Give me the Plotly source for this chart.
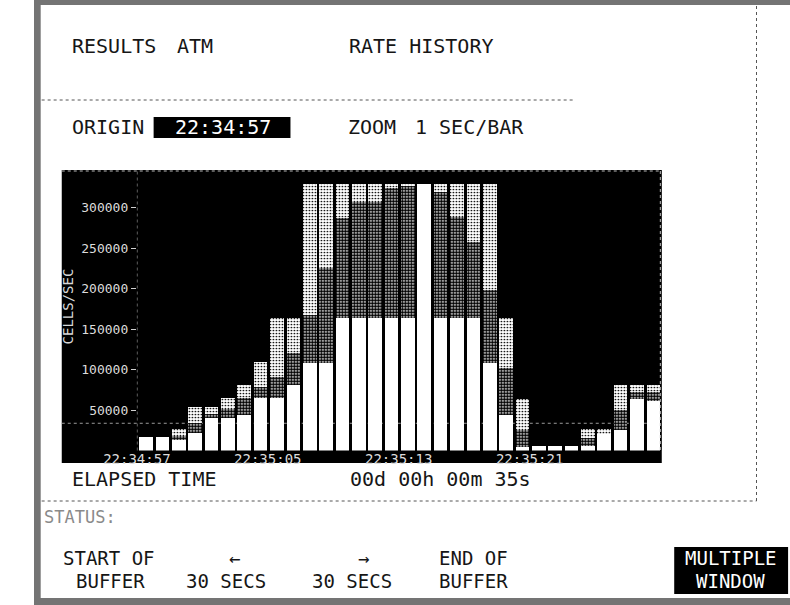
import plotly.graph_objects as go

# ---------------- data ----------------
seconds = list(range(32))  # one bar per second from origin 22:34:57
tick_seconds = [0, 8, 16, 24]
tick_labels = ["22:34:57", "22:35:05", "22:35:13", "22:35:21"]
y_ticks = [50000, 100000, 150000, 200000, 250000, 300000]

# segment heights (cells/sec) read from the display
white_seg = [16300, 16300, 13000, 22000, 40000, 39700, 43800, 64400, 64400, 80900,
             108400, 108400, 164000, 164000, 164000, 164000, 164000, 329000, 164000, 164000,
             164000, 108400, 43800, 4500, 5600, 5600, 5600, 5600, 20400, 25300,
             63200, 61500]
dark_seg = [0, 0, 5000, 11600, 5000, 11100, 20600, 14400, 26700, 39100,
            58900, 116600, 122700, 143200, 142400, 159700, 162000, 0, 155500, 124600,
            93800, 89800, 57700, 20800, 0, 0, 0, 9400, 0, 24700,
            9400, 11100]
light_seg = [0, 0, 8900, 20500, 9100, 13600, 16500, 30800, 72500, 43600,
             161700, 104000, 42300, 21800, 22600, 5300, 3000, 0, 9500, 40400,
             71200, 130800, 62100, 37900, 0, 0, 0, 11200, 5800, 30900,
             8300, 8300]
threshold = 33600

W, H = 790, 605
MONO = "DejaVu Sans Mono"


def px(x):
    return x / W


def py(y):
    return (H - y) / H


# plot-area geometry in pixels
X0_PX, X1_PX = 107.5, 655.5
Y0_PX, Y1_PX = 450.5, 170
UNIT = 17.1
YMAX = (Y0_PX - Y1_PX) * 1234.6

fig = go.Figure()

seg_styles = [
    ("white", white_seg, dict(color="#ffffff")),
    ("dark", dark_seg, dict(color="#ffffff",
                            pattern=dict(shape=".", fgcolor="#000000", bgcolor="#ffffff",
                                         size=3, solidity=0.7, fillmode="replace"))),
    ("light", light_seg, dict(color="#ffffff",
                              pattern=dict(shape=".", fgcolor="#000000", bgcolor="#ffffff",
                                           size=3, solidity=0.25, fillmode="replace"))),
]
for name, vals, mk in seg_styles:
    fig.add_trace(go.Bar(
        x=seconds, y=vals, name=name, offset=0.14, width=0.83,
        marker=dict(line=dict(width=0), **mk), showlegend=False, hoverinfo="skip"))

shapes = []
# outer dithered frame
for x0, y0, x1, y1 in [(0, 0, 7, H), (0, 0, W, 5), (0, 598, W, H)]:
    shapes.append(dict(type="rect", xref="paper", yref="paper", x0=px(x0), x1=px(x1),
                       y0=py(y1), y1=py(y0), fillcolor="#747474", line=dict(width=0), layer="below"))
# dashed panel lines
shapes += [
    dict(type="line", xref="paper", yref="paper", x0=px(8), x1=px(564), y0=py(100), y1=py(100),
         line=dict(color="#555", width=1, dash="dot")),
    dict(type="line", xref="paper", yref="paper", x0=px(8), x1=px(755), y0=py(501), y1=py(501),
         line=dict(color="#555", width=1, dash="dot")),
    dict(type="line", xref="paper", yref="paper", x0=px(755), x1=px(755), y0=py(6), y1=py(501),
         line=dict(color="#555", width=1, dash="dot")),
]
# black chart panel
shapes.append(dict(type="rect", xref="paper", yref="paper", x0=px(29), x1=px(656),
                   y0=py(463), y1=py(170), fillcolor="#000", line=dict(width=0), layer="below"))
# origin box and multiple-window key
shapes.append(dict(type="rect", xref="paper", yref="paper", x0=px(125), x1=px(268),
                   y0=py(138), y1=py(117), fillcolor="#000", line=dict(width=0)))
shapes.append(dict(type="rect", xref="paper", yref="paper", x0=px(669), x1=px(788),
                   y0=py(594), y1=py(547), fillcolor="#000", line=dict(width=0)))
# dotted axis line, border and threshold
shapes += [
    dict(type="line", xref="x", yref="paper", x0=0, x1=0, y0=py(Y0_PX), y1=py(Y1_PX),
         line=dict(color="#d0d0d0", width=1, dash="dot")),
    dict(type="line", xref="paper", yref="paper", x0=px(29), x1=px(656), y0=py(171), y1=py(171),
         line=dict(color="#bbbbbb", width=1, dash="dot")),
    dict(type="line", xref="paper", yref="paper", x0=px(654.5), x1=px(654.5), y0=py(171), y1=py(450),
         line=dict(color="#bbbbbb", width=1, dash="dot")),
    dict(type="line", xref="paper", yref="y", x0=px(29), x1=px(655), y0=threshold, y1=threshold,
         line=dict(color="#9a9a9a", width=1, dash="dot"), layer="below"),
]

ann = []


def text(x, y, s, size=20, color="#161616", anchor="left", **kw):
    ann.append(dict(x=px(x), y=py(y), xref="paper", yref="paper", text=s, showarrow=False,
                    xanchor=anchor, yanchor="middle", borderpad=0,
                    font=dict(family=MONO, size=size, color=color), **kw))


text(39, 46, "RESULTS")
text(148, 46, "ATM")
text(328, 46, "RATE HISTORY")
text(39, 127, "ORIGIN")
text(197, 127, "22:34:57", color="#ffffff", anchor="center")
text(327, 127, "ZOOM")
text(397, 127, "1 SEC/BAR")
text(39, 479, "ELAPSED TIME")
text(329, 479, "00d 00h 00m 35s")
text(9, 517, "STATUS:", size=17, color="#8a8a8a")
text(78, 558, "START OF", size=19, anchor="center")
text(80, 581, "BUFFER", size=19, anchor="center")
text(210, 558, "←", size=19, anchor="center")
text(201, 581, "30 SECS", size=19, anchor="center")
text(344, 558, "→", size=19, anchor="center")
text(332, 581, "30 SECS", size=19, anchor="center")
text(459, 558, "END OF", size=19, anchor="center")
text(459, 581, "BUFFER", size=19, anchor="center")
text(728, 558, "MULTIPLE", size=19, color="#ffffff", anchor="center")
text(728, 581, "WINDOW", size=19, color="#ffffff", anchor="center")
text(36, 306, "CELLS/SEC", size=14, color="#d8d8d8", anchor="center", textangle=-90)

fig.update_layout(
    width=W, height=H, margin=dict(l=0, r=0, t=0, b=0),
    paper_bgcolor="#ffffff", plot_bgcolor="#000000",
    barmode="stack", bargap=0, showlegend=False,
    shapes=shapes, annotations=ann,
    xaxis=dict(domain=[px(X0_PX), px(X1_PX)], range=[0, (X1_PX - X0_PX) / UNIT],
               tickmode="array", tickvals=tick_seconds, ticktext=tick_labels,
               ticks="", showgrid=False, zeroline=False, showline=False,
               ticklabelstandoff=-2,
               tickfont=dict(family=MONO, size=14, color="#dcdcdc")),
    yaxis=dict(domain=[py(Y0_PX), py(Y1_PX)], range=[0, YMAX],
               tickmode="array", tickvals=y_ticks, ticktext=[str(v) for v in y_ticks],
               ticks="outside", ticklen=5, tickcolor="#d0d0d0", tickwidth=1,
               showgrid=False, zeroline=False, showline=False,
               tickfont=dict(family=MONO, size=13, color="#dcdcdc")),
)

fig.write_html("out.html", config={"displayModeBar": False},
               post_script="document.body.style.margin='0';document.body.style.overflow='hidden';")
